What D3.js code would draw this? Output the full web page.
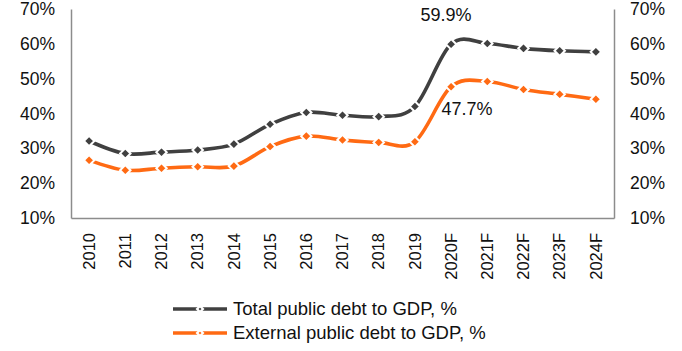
<!DOCTYPE html>
<html>
<head>
<meta charset="utf-8">
<script src="https://cdn.jsdelivr.net/npm/d3@7"></script>
<style>
  html, body { margin: 0; padding: 0; background: #fff; }
  svg { display: block; font-family: "Liberation Sans", Arial, sans-serif; }
</style>
</head>
<body>
<svg id="chart" width="682" height="351"></svg>
<script>
// Public debt ratios, actuals and forecasts
const years = ["2010","2011","2012","2013","2014","2015","2016","2017","2018","2019","2020F","2021F","2022F","2023F","2024F"];
const totalDebt = [32.1, 28.5, 28.9, 29.5, 31.2, 36.9, 40.3, 39.5, 39.1, 42.0, 59.9, 60.1, 58.7, 58.0, 57.7];
const externalDebt = [26.6, 23.7, 24.3, 24.7, 24.9, 30.5, 33.5, 32.4, 31.7, 31.9, 47.7, 49.2, 46.9, 45.5, 44.1];
const seriesNames = ["Total public debt to GDP, %", "External public debt to GDP, %"];
const seriesColors = ["#404040", "#FF6A13"];
const yTicks = [10, 20, 30, 40, 50, 60, 70];
const callouts = [
  { series: 0, index: 10, text: "59.9%" },
  { series: 1, index: 10, text: "47.7%" }
];

const svg = d3.select("#chart");
const plot = { left: 71, right: 614, top: 9, bottom: 218 };

const x = d3.scaleBand().domain(years).range([plot.left, plot.right]);
const y = d3.scaleLinear().domain([10, 70]).range([plot.bottom, plot.top]);
const cx = d => x(d) + x.bandwidth() / 2;

const axisColor = "#8c8c8c";

// Left axis
const yLeft = d3.axisLeft(y).tickValues(yTicks).tickSize(0).tickPadding(16)
  .tickFormat(d => d + "%");
svg.append("g").attr("transform", `translate(${plot.left},0)`).call(yLeft)
  .call(g => g.select(".domain").attr("stroke", axisColor).attr("stroke-width", 1.5))
  .call(g => g.selectAll("text").attr("font-size", 17.5).attr("fill", "#111")
    .attr("font-family", "Liberation Sans, Arial, sans-serif"));

// Right axis
const yRight = d3.axisRight(y).tickValues(yTicks).tickSize(0).tickPadding(16)
  .tickFormat(d => d + "%");
svg.append("g").attr("transform", `translate(${plot.right},0)`).call(yRight)
  .call(g => g.select(".domain").attr("stroke", axisColor).attr("stroke-width", 1.5))
  .call(g => g.selectAll("text").attr("font-size", 17.5).attr("fill", "#111")
    .attr("font-family", "Liberation Sans, Arial, sans-serif"));

// Bottom axis with vertical year labels
const xAxis = d3.axisBottom(x).tickSize(0).tickPadding(0);
svg.append("g").attr("transform", `translate(0,${plot.bottom})`).call(xAxis)
  .call(g => g.select(".domain").attr("stroke", axisColor).attr("stroke-width", 1.5))
  .call(g => g.selectAll("text")
    .attr("font-size", 16.5).attr("fill", "#111")
    .attr("font-family", "Liberation Sans, Arial, sans-serif")
    .attr("text-anchor", "end")
    .attr("dy", "0.35em")
    .attr("transform", "translate(0,15) rotate(-90)")
    .attr("x", 0).attr("y", 0));

// Smoothed lines with diamond markers
const series = [totalDebt, externalDebt];
const line = d3.line()
  .x((d, i) => cx(years[i]))
  .y(d => y(d))
  .curve(d3.curveCatmullRom.alpha(0));
const diamond = d3.symbol().type(d3.symbolDiamond2).size(70);

series.forEach((vals, s) => {
  const g = svg.append("g");
  g.append("path").datum(vals)
    .attr("d", line)
    .attr("fill", "none")
    .attr("stroke", seriesColors[s])
    .attr("stroke-width", 3.6)
    .attr("stroke-linecap", "butt");
  g.selectAll("path.m").data(vals).join("path")
    .attr("class", "m")
    .attr("d", diamond)
    .attr("transform", (d, i) => `translate(${cx(years[i])},${y(d)})`)
    .attr("fill", seriesColors[s])
    .attr("stroke", "#fff")
    .attr("stroke-width", 2);
});

// Value callouts
svg.append("text").attr("x", cx(years[10]) - 5).attr("y", y(totalDebt[10]) - 23)
  .attr("text-anchor", "middle").attr("font-size", 18).attr("fill", "#111")
  .text(callouts[0].text);
svg.append("text").attr("x", cx(years[10]) + 16).attr("y", y(externalDebt[10]) + 28)
  .attr("text-anchor", "middle").attr("font-size", 18).attr("fill", "#111")
  .text(callouts[1].text);

// Legend
const legend = svg.append("g");
seriesNames.forEach((name, s) => {
  const ly = 309 + s * 24;
  const row = legend.append("g");
  row.append("line").attr("x1", 173).attr("x2", 227).attr("y1", ly).attr("y2", ly)
    .attr("stroke", seriesColors[s]).attr("stroke-width", 3.6);
  row.append("path").attr("d", d3.symbol().type(d3.symbolDiamond2).size(22))
    .attr("transform", `translate(200,${ly})`)
    .attr("fill", seriesColors[s]).attr("stroke", "#fff").attr("stroke-width", 2.2);
  row.append("text").attr("x", 233).attr("y", ly).attr("dy", "0.35em")
    .attr("font-size", 18.5).attr("fill", "#111").text(name);
});
</script>
</body>
</html>
